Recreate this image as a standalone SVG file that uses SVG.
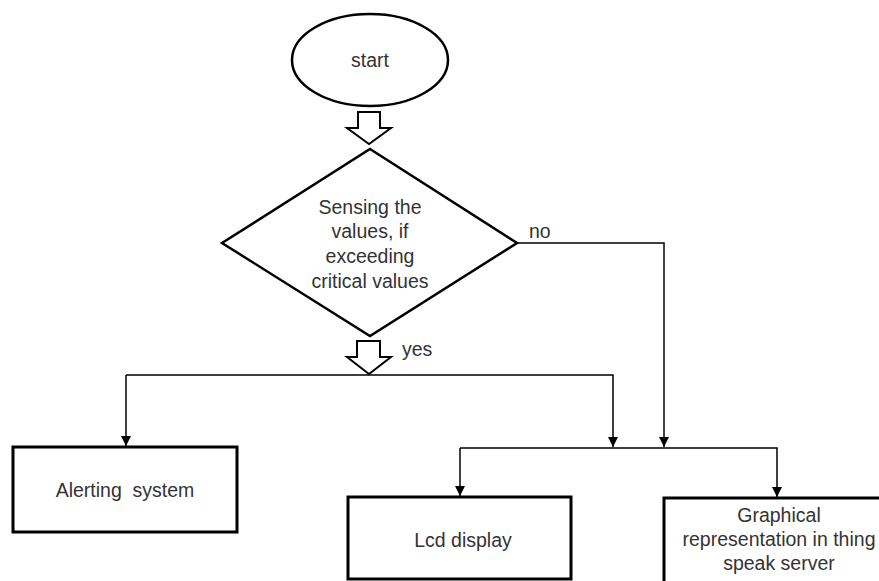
<svg xmlns="http://www.w3.org/2000/svg" width="879" height="581" viewBox="0 0 879 581">
  <style>
    .shape { fill: #ffffff; stroke: #000000; stroke-width: 2.5; }
    .box { fill: #ffffff; stroke: #000000; stroke-width: 3; }
    .flow { fill: #ffffff; stroke: #000000; stroke-width: 2; stroke-linejoin: miter; }
    .wire { fill: none; stroke: #000000; stroke-width: 1.5; }
    text { font-family: "Liberation Sans", Arial, sans-serif; font-size: 19.5px; fill: #333333; text-anchor: middle; white-space: pre; }
    .lbl { text-anchor: start; }
  </style>
  <defs>
    <marker id="head" viewBox="0 0 10 10" refX="10" refY="5" markerWidth="10" markerHeight="10" markerUnits="userSpaceOnUse" orient="auto">
      <path d="M0,0 L10,5 L0,10 Z" fill="#000000"/>
    </marker>
  </defs>
  <rect width="879" height="581" fill="#ffffff"/>

  <g id="start">
    <ellipse class="shape" cx="370" cy="60" rx="78" ry="46"/>
    <text x="370" y="67">start</text>
  </g>

  <g id="decision">
    <polygon class="shape" points="370,149 517,243 370,336 222,243"/>
    <text x="370" y="214">Sensing the</text>
    <text x="370" y="238">values, if</text>
    <text x="370" y="263">exceeding</text>
    <text x="370" y="288">critical values</text>
  </g>

  <g id="alerting">
    <rect class="box" x="13" y="447" width="224" height="85"/>
    <text x="125" y="497" xml:space="preserve">Alerting  system</text>
  </g>

  <g id="lcd">
    <rect class="box" x="348" y="497" width="223" height="82"/>
    <text x="463" y="547">Lcd display</text>
  </g>

  <g id="graph">
    <rect class="box" x="664" y="498" width="230" height="100"/>
    <text x="779" y="522">Graphical</text>
    <text x="779" y="546">representation in thing</text>
    <text x="779" y="570">speak server</text>
  </g>

  <g id="connectors">
    <!-- block arrows between start, decision and the yes branch -->
    <polygon class="flow" points="358,112 380,112 380,128 391,128 369,144 347,128 358,128"/>
    <polygon class="flow" points="357,341 380,341 380,357 391,357 369,374 347,357 357,357"/>
    <text class="lbl" x="402" y="356">yes</text>
    <!-- yes branch -->
    <path class="wire" d="M126,375 H613 V447" marker-end="url(#head)"/>
    <path class="wire" d="M126,375 V446" marker-end="url(#head)"/>
    <!-- no branch -->
    <path class="wire" d="M517,243 H664 V447" marker-end="url(#head)"/>
    <text class="lbl" x="529" y="238">no</text>
    <!-- split to outputs -->
    <path class="wire" d="M460,448 H777 V497" marker-end="url(#head)"/>
    <path class="wire" d="M460,448 V496" marker-end="url(#head)"/>
  </g>
</svg>
